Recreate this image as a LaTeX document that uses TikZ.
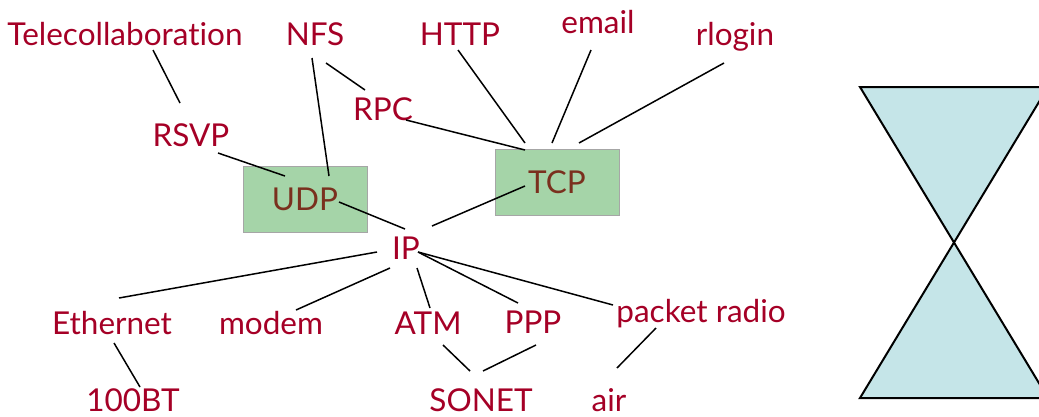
\documentclass[tikz,border=0pt]{standalone}
\usepackage{fontspec}
\setmainfont{Lato}[Ligatures=NoCommon]
\usepackage{xcolor}
\definecolor{protored}{RGB}{165,0,38}
\definecolor{protobrown}{RGB}{122,48,30}
\definecolor{protogreen}{RGB}{165,212,168}
\definecolor{glassblue}{RGB}{197,229,232}
\tikzset{
  proto/.style={anchor=base,inner sep=0pt,text=protored,font=\fontsize{31.5}{36}\selectfont},
  layer/.style={draw=black!35,fill=protogreen,minimum width=124pt,minimum height=66pt,
    inner sep=0pt,text=protobrown,font=\fontsize{31.5}{36}\selectfont},
  link/.style={line width=1.5pt}
}
\begin{document}
\begin{tikzpicture}[x=1pt,y=-1pt]
        \useasboundingbox (0,0) rectangle (1039,416);
        % Sablier
        \draw[line width=2pt,fill=glassblue] (860,87) -- (1048,87) -- (860,398) -- (1048,398) -- cycle;
        % Couches transport
        \node[layer] (udp) at (305,199) {UDP};
        \node[layer] (tcp) at (557,182) {TCP};
        % Applications
        \node[proto] (tele) at (125,45) {Telecollaboration};
        \node[proto] (nfs) at (315,45) {NFS};
        \node[proto] (http) at (460,45) {HTTP};
        \node[proto] (email) at (598,33) {email};
        \node[proto] (rlogin) at (735,45) {rlogin};
        \node[proto] (rsvp) at (191,146) {RSVP};
        \node[proto] (rpc) at (383,120) {RPC};
        % Réseau
        \node[proto] (ip) at (406,259) {IP};
        % Liens
        \node[proto] (eth) at (112,334) {Ethernet};
        \node[proto] (modem) at (271,334) {modem};
        \node[proto] (atm) at (428,334) {ATM};
        \node[proto] (ppp) at (533,333) {PPP};
        \node[proto] (radio) at (701,322) {packet radio};
        % Physique
        \node[proto] (bt) at (133,411) {100BT};
        \node[proto] (sonet) at (481,411) {SONET};
        \node[proto] (air) at (609,411) {air};
        % Traits
        \draw[link] ([shift={(28,5)}]tele.base) -- ([shift={(-11,-43)}]rsvp.base);
        \draw[link] ([shift={(-3,13)}]nfs.base) -- ([shift={(24,-23)}]udp.center);
        \draw[link] ([shift={(11,18)}]nfs.base) -- ([shift={(-18,-30)}]rpc.base);
        \draw[link] ([shift={(27,7)}]rsvp.base) -- ([shift={(-20,-23)}]udp.center);
        \draw[link] ([shift={(23,0)}]rpc.base) -- ([shift={(-32,-32)}]tcp.center);
        \draw[link] ([shift={(-2,5)}]http.base) -- ([shift={(-32,-39)}]tcp.center);
        \draw[link] ([shift={(-7,17)}]email.base) -- ([shift={(-5,-39)}]tcp.center);
        \draw[link] ([shift={(-11,18)}]rlogin.base) -- ([shift={(22,-39)}]tcp.center);
        \draw[link] ([shift={(34,3)}]udp.center) -- ([shift={(-1,-30)}]ip.base);
        \draw[link] ([shift={(-32,4)}]tcp.center) -- ([shift={(26,-33)}]ip.base);
        \draw[link] ([shift={(-29,-7)}]ip.base) -- ([shift={(7,-36)}]eth.base);
        \draw[link] ([shift={(-16,9)}]ip.base) -- ([shift={(25,-24)}]modem.base);
        \draw[link] ([shift={(11,9)}]ip.base) -- ([shift={(2,-26)}]atm.base);
        \draw[link] ([shift={(12,-7)}]ip.base) -- ([shift={(-15,-30)}]ppp.base);
        \draw[link] ([shift={(12,-7)}]ip.base) -- ([shift={(-88,-17)}]radio.base);
        \draw[link] ([shift={(2,9)}]eth.base) -- ([shift={(7,-24)}]bt.base);
        \draw[link] ([shift={(15,11)}]atm.base) -- ([shift={(-11,-40)}]sonet.base);
        \draw[link] ([shift={(2,-40)}]sonet.base) -- ([shift={(3,12)}]ppp.base);
        \draw[link] ([shift={(-45,6)}]radio.base) -- ([shift={(8,-43)}]air.base);
\end{tikzpicture}
\end{document}
